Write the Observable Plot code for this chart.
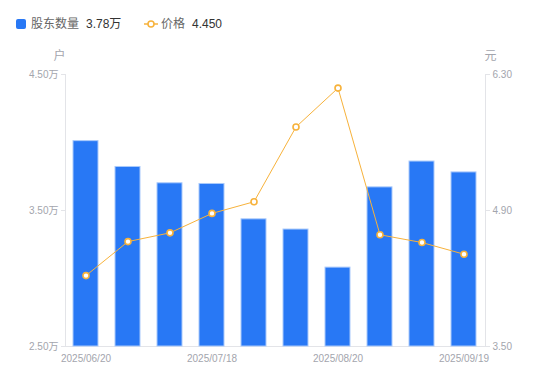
<!DOCTYPE html>
<html>
<head>
<meta charset="utf-8">
<script src="https://cdn.jsdelivr.net/npm/d3@7"></script>
<script src="https://cdn.jsdelivr.net/npm/@observablehq/plot@0.6"></script>
<style>
  html, body { margin: 0; padding: 0; background: #fff; }
  body { width: 550px; height: 381px; position: relative; overflow: hidden;
         font-family: "Liberation Sans", Arial, "Noto Sans CJK SC", sans-serif; }
  #legend { position: absolute; left: 0; top: 0; width: 550px; height: 40px; font-size: 12px; }
  .lg { position: absolute; top: 16px; line-height: 16px; white-space: nowrap; }
  .name { color: #666; }
  .val { color: #333; margin-left: 7px; }
  #chart { position: absolute; left: 0; top: 40px; }
</style>
</head>
<body>
<div id="legend"></div>
<div id="chart"></div>
<script>
// ---- data ----
const dates = ["2025/06/20","2025/06/30","2025/07/10","2025/07/18","2025/07/31","2025/08/10","2025/08/20","2025/08/31","2025/09/10","2025/09/19"];
const holders = [4.01, 3.82, 3.70, 3.695, 3.435, 3.36, 3.08, 3.67, 3.86, 3.78]; // 万户
const prices = [4.23, 4.58, 4.67, 4.87, 4.99, 5.76, 6.16, 4.65, 4.57, 4.45];   // 元
const xTickLabels = ["2025/06/20","2025/07/18","2025/08/20","2025/09/19"];
const leftTicks = [2.5, 3.5, 4.5];
const rightTicks = [3.5, 4.9, 6.3];
const seriesNames = ["股东数量", "价格"];
const legendValues = ["3.78万", "4.450"];
const leftUnit = "户";
const rightUnit = "元";

// ---- scales / mapping ----
const leftDomain = [2.5, 4.5];
const rightDomain = [3.5, 6.3];
const toLeft = v => leftDomain[0] + (v - rightDomain[0]) * (leftDomain[1] - leftDomain[0]) / (rightDomain[1] - rightDomain[0]);
const fromLeft = v => rightDomain[0] + (v - leftDomain[0]) * (rightDomain[1] - rightDomain[0]) / (leftDomain[1] - leftDomain[0]);

const rows = dates.map((d, i) => ({date: d, holders: holders[i], price: prices[i], priceY: toLeft(prices[i])}));

const blue = "#2878f5";
const orange = "#f7b23b";
const axisGrey = "#e3e4e8";
const textGrey = "#a3a5ad";

// ---- legend ----
const legend = document.getElementById("legend");
legend.innerHTML = `
  <div class="lg" style="left:16px;top:19px;width:10px;height:10px;background:${blue};border-radius:2px;"></div>
  <div class="lg" style="left:31px;"><span class="name">${seriesNames[0]}</span><span class="val">${legendValues[0]}</span></div>
  <svg class="lg" style="left:144px;top:17px;" width="14" height="14">
    <line x1="0" y1="7" x2="14" y2="7" stroke="${orange}" stroke-width="1.5"/>
    <circle cx="7" cy="7" r="3" fill="#fff" stroke="${orange}" stroke-width="1.5"/>
  </svg>
  <div class="lg" style="left:161px;"><span class="name">${seriesNames[1]}</span><span class="val">${legendValues[1]}</span></div>
`;

// ---- chart ----
const chart = Plot.plot({
  width: 550,
  height: 341,
  marginLeft: 65,
  marginRight: 65,
  marginTop: 34,
  marginBottom: 35,
  style: {fontFamily: '"Liberation Sans", Arial, "Noto Sans CJK SC", sans-serif', fontSize: "10px", color: textGrey, background: "#fff"},
  x: {type: "band", domain: dates, paddingInner: 0.4, paddingOuter: 0.2, axis: null},
  y: {domain: leftDomain, axis: null},
  marks: [
    Plot.frame({anchor: "left", stroke: axisGrey}),
    Plot.frame({anchor: "right", stroke: axisGrey}),
    Plot.ruleY([leftDomain[0]], {stroke: axisGrey}),
    Plot.barY(rows, {x: "date", y1: () => leftDomain[0], y2: "holders", fill: blue, stroke: "#a9c9fb", strokeWidth: 1}),
    Plot.line(rows, {x: "date", y: "priceY", stroke: orange, strokeWidth: 1}),
    Plot.dot(rows, {x: "date", y: "priceY", r: 3, fill: "#fff", stroke: orange, strokeWidth: 1.6}),
    Plot.axisX({ticks: xTickLabels, tickSize: 0, tickPadding: 8, fill: textGrey, fontSize: 10, label: null}),
    Plot.axisY({anchor: "left", ticks: leftTicks, tickSize: 4, tickPadding: 3, stroke: axisGrey, fill: textGrey,
                tickFormat: d => d.toFixed(2) + "万", label: null}),
    Plot.axisY({anchor: "right", ticks: rightTicks.map(toLeft), tickSize: 4, tickPadding: 3, stroke: axisGrey, fill: textGrey,
                tickFormat: d => fromLeft(d).toFixed(2), label: null}),
    Plot.text([leftUnit], {frameAnchor: "top-left", dx: -6, dy: -23, fill: textGrey, fontSize: 12, textAnchor: "middle"}),
    Plot.text([rightUnit], {frameAnchor: "top-right", dx: 5, dy: -23, fill: textGrey, fontSize: 12, textAnchor: "middle"})
  ]
});
document.getElementById("chart").appendChild(chart);
</script>
</body>
</html>
